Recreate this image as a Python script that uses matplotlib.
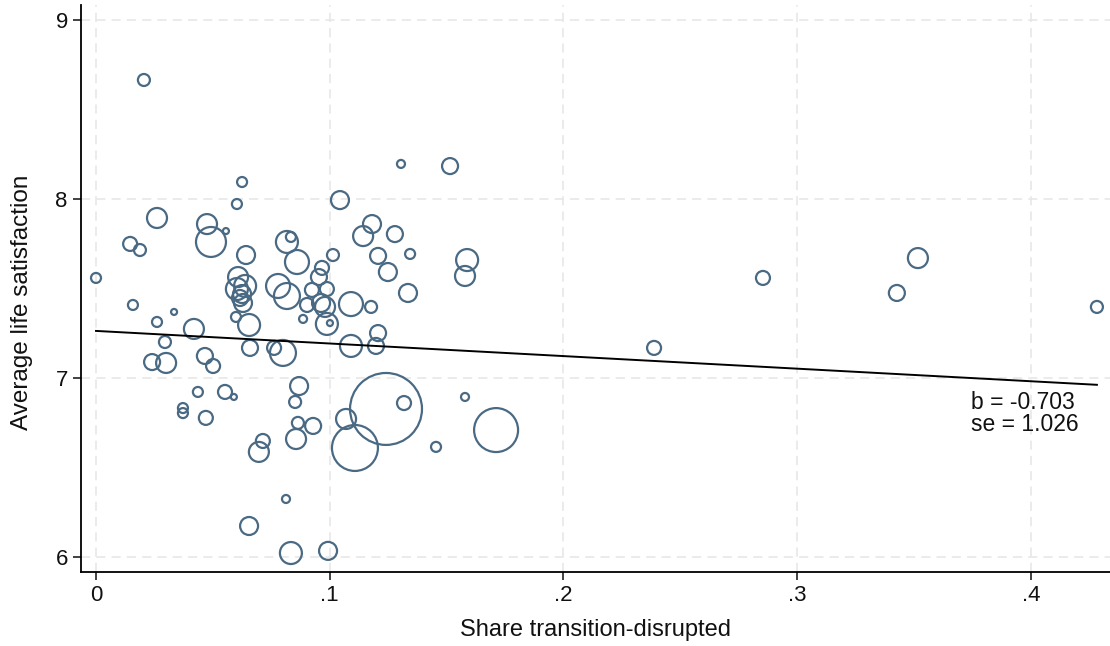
import numpy as np
import matplotlib
matplotlib.use("Agg")
import matplotlib.pyplot as plt

# Share transition-disrupted (x), average life satisfaction (y), bubble weight
share = [0.0205, 0.0625, 0.0603, 0.1305, 0.1515, 0.1044, 0.0261, 0.0146, 0.0188, 0.0000,
         0.0158, 0.0261, 0.0334, 0.0295, 0.0240, 0.0300, 0.0419, 0.0466, 0.0501, 0.0475,
         0.0492, 0.0556, 0.0642, 0.0608, 0.0638, 0.0603, 0.0625, 0.0616, 0.0629, 0.0599,
         0.0655, 0.0659, 0.0762, 0.0800, 0.0817, 0.0834, 0.0860, 0.0779, 0.0817, 0.1014,
         0.0967, 0.0954, 0.0924, 0.0988, 0.0903, 0.0963, 0.0980, 0.0886, 0.0988, 0.1001,
         0.1181, 0.1143, 0.1279, 0.1207, 0.1249, 0.1344, 0.1588, 0.1579, 0.1335, 0.1091,
         0.1177, 0.1207, 0.1198, 0.1091, 0.0436, 0.0552, 0.0590, 0.0372, 0.0372, 0.0470,
         0.0714, 0.0697, 0.0869, 0.0852, 0.0864, 0.0929, 0.0856, 0.0813, 0.0655, 0.0834,
         0.0993, 0.1070, 0.1241, 0.1318, 0.1108, 0.1579, 0.1455, 0.1712, 0.2388, 0.2854,
         0.3427, 0.3517, 0.4283]
life_sat = [8.665, 8.095, 7.972, 8.196, 8.184, 7.994, 7.894, 7.749, 7.715, 7.559,
            7.408, 7.313, 7.369, 7.201, 7.089, 7.084, 7.274, 7.123, 7.067, 7.860,
            7.760, 7.821, 7.687, 7.564, 7.514, 7.497, 7.469, 7.447, 7.419, 7.341,
            7.296, 7.168, 7.168, 7.140, 7.760, 7.788, 7.648, 7.514, 7.458, 7.687,
            7.615, 7.564, 7.492, 7.497, 7.408, 7.419, 7.397, 7.330, 7.302, 7.307,
            7.860, 7.793, 7.804, 7.682, 7.592, 7.693, 7.659, 7.570, 7.475, 7.413,
            7.397, 7.251, 7.179, 7.179, 6.922, 6.922, 6.894, 6.832, 6.804, 6.777,
            6.648, 6.587, 6.955, 6.866, 6.749, 6.732, 6.659, 6.324, 6.173, 6.022,
            6.034, 6.771, 6.827, 6.860, 6.609, 6.894, 6.615, 6.709, 7.168, 7.559,
            7.475, 7.670, 7.397]
pop_weight = [36, 25, 25, 16, 64, 81, 100, 49, 36, 25,
              25, 25, 9, 36, 64, 100, 100, 64, 49, 100,
              225, 9, 81, 100, 121, 121, 81, 64, 81, 25,
              121, 64, 49, 169, 121, 25, 144, 144, 169, 36,
              49, 64, 49, 49, 49, 81, 100, 16, 121, 9,
              81, 100, 64, 64, 81, 25, 121, 100, 81, 144,
              36, 64, 64, 121, 25, 49, 9, 25, 25, 49,
              49, 100, 81, 36, 36, 64, 100, 16, 81, 121,
              81, 100, 1296, 49, 529, 16, 25, 484, 49, 49,
              64, 100, 36]

# Weighted fit reported in the figure
b_coef = -0.703
se_coef = 1.026
intercept = 7.263

x_ticks = [0, 0.1, 0.2, 0.3, 0.4]
x_ticklabels = ["0", ".1", ".2", ".3", ".4"]
y_ticks = [6, 7, 8, 9]

plt.rcParams['font.family'] = ['Liberation Sans', 'DejaVu Sans']

fig = plt.figure(figsize=(11.1, 6.46), dpi=100)
ax = fig.add_axes([81 / 1110, 74 / 646, 1 - 81 / 1110, 567 / 646])

bubble_color = '#4a6a84'
sizes = [2.07 * w for w in pop_weight]
ax.scatter(share, life_sat, s=sizes, facecolors='none', edgecolors=bubble_color,
           linewidths=1.6, zorder=3)

# Fitted line
xfit = np.array([0, max(share)])
ax.plot(xfit, intercept + b_coef * xfit, color='black', lw=1.4, zorder=4)

ax.text(0.3745, 6.80, f"b = {b_coef:.3f}\nse = {se_coef:.3f}", fontsize=16.5,
        ha='left', va='center', linespacing=0.95, color='#111111')

ax.set_xlim(-0.00642, 0.4339)
ax.set_ylim(5.916, 9.084)
ax.set_xticks(x_ticks)
ax.set_xticklabels(x_ticklabels)
ax.set_yticks(y_ticks)
ax.tick_params(axis='both', labelsize=16, length=6, width=1.3, pad=3.5, color='#333333',
               labelcolor='#111111')

ax.spines['top'].set_visible(False)
ax.spines['right'].set_visible(False)
ax.spines['left'].set_linewidth(1.3)
ax.spines['bottom'].set_linewidth(1.3)

ax.grid(True, linestyle=(0, (6, 4)), color='#e6e6e6', linewidth=1.1)
ax.set_axisbelow(True)

ax.set_xlabel("Share transition-disrupted", fontsize=17, labelpad=9, color='#111111')
ax.set_ylabel("Average life satisfaction", fontsize=17.5, color='#111111')
ax.yaxis.set_label_coords(-0.047, 0.475)

fig.savefig("out.png", dpi=100)
